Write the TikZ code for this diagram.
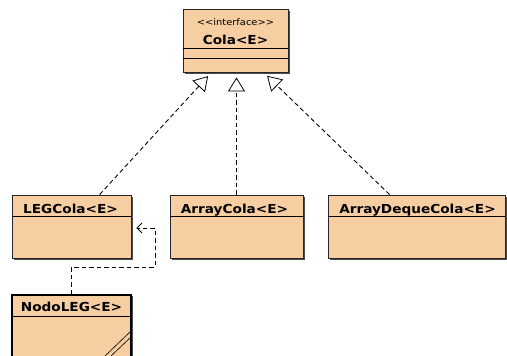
\documentclass[tikz,border=0pt]{standalone}
\usepackage{fontspec}
\setmainfont{DejaVu Sans}[FakeStretch=1.1]
\usetikzlibrary{arrows.meta,calc,backgrounds}
\definecolor{classfill}{RGB}{247,206,162}
\tikzset{
  classbox/.style={draw=black!85, line width=0.8pt, fill=classfill, inner sep=0pt},
  boxshadow/.style={fill=black!70},
  classname/.style={font=\bfseries\fontsize{12.4}{14}\selectfont, inner sep=0pt, anchor=base},
  stereo/.style={font=\fontsize{9}{10}\selectfont, inner sep=0pt},
  realize/.style={dashed, dash pattern=on 4.5pt off 3pt, line width=0.9pt, shorten >=5pt,
    -{Triangle[open, length=14pt, width=17pt, fill=white, line width=0.8pt]}},
  depend/.style={dashed, dash pattern=on 4.5pt off 3pt, line width=0.9pt, shorten >=5pt,
    -{Straight Barb[length=5pt, width=10pt, line width=0.8pt]}}
}
\begin{document}
\begin{tikzpicture}[x=1pt,y=-1pt]
	\useasboundingbox (0,0) rectangle (507,356);
	% interface
	\node [classbox, minimum width=105pt, minimum height=63pt] (cola) at (235.5,40.5) {};
	\node [stereo] (colaster) at ($(cola.north)+(0,14)$) {{<}{<}interface{>}{>}};
	\node [classname] (colaname) at ($(cola.north)+(0,36)$) {Cola<E>};
	\draw [line width=0.8pt] ($(cola.north west)+(0,40)$) -- ($(cola.north east)+(0,40)$);
	\draw [line width=0.8pt] ($(cola.north west)+(0,50)$) -- ($(cola.north east)+(0,50)$);
	% implementaciones
	\node [classbox, minimum width=119pt, minimum height=63pt] (leg) at (71.5,226.5) {};
	\node [classname] (legname) at ($(leg.north)+(-1,19)$) {LEGCola<E>};
	\draw [line width=0.8pt] ($(leg.north west)+(0,22)$) -- ($(leg.north east)+(0,22)$);
	\node [classbox, minimum width=133pt, minimum height=63pt] (arr) at (236.5,226.5) {};
	\node [classname] (arrname) at ($(arr.north)+(-2,19)$) {ArrayCola<E>};
	\draw [line width=0.8pt] ($(arr.north west)+(0,22)$) -- ($(arr.north east)+(0,22)$);
	\node [classbox, minimum width=177pt, minimum height=63pt] (deq) at (416.5,226.5) {};
	\node [classname] (deqname) at ($(deq.north)+(1,19)$) {ArrayDequeCola<E>};
	\draw [line width=0.8pt] ($(deq.north west)+(0,22)$) -- ($(deq.north east)+(0,22)$);
	% clase interna
	\node [classbox, line width=1.6pt, draw=black, minimum width=119pt, minimum height=68pt] (nodo) at (71.5,329) {};
	\node [classname] (nodoname) at ($(nodo.north)+(0,17.5)$) {NodoLEG<E>};
	\draw [line width=0.8pt] ($(nodo.north west)+(0,22)$) -- ($(nodo.north east)+(0,22)$);
	\draw [line width=0.6pt] ($(nodo.north east)+(0,36)$) -- ($(nodo.north east)+(-27,62)$);
	\draw [line width=0.6pt] ($(nodo.north east)+(0,42)$) -- ($(nodo.north east)+(-21,62)$);
	% sombras
	\begin{scope}[on background layer]
		\foreach \cls in {cola,leg,arr,deq,nodo}
			\fill [boxshadow] ($(\cls.north west)+(2,2)$) rectangle ($(\cls.south east)+(1.4,1.8)$);
	\end{scope}
	% relaciones
	\draw [realize] ($(leg.north west)+(88,0)$) -- ($(cola.south)+(-24,0)$);
	\draw [realize] (arr.north) -- (arr.north |- cola.south);
	\draw [realize] ($(deq.north west)+(62,0)$) -- ($(cola.south)+(28,0)$);
	\coordinate (bend) at (155,267);
	\draw [depend] (nodo.north) |- (bend) |- ($(leg.east)+(0,1.5)$);
\end{tikzpicture}
\end{document}
